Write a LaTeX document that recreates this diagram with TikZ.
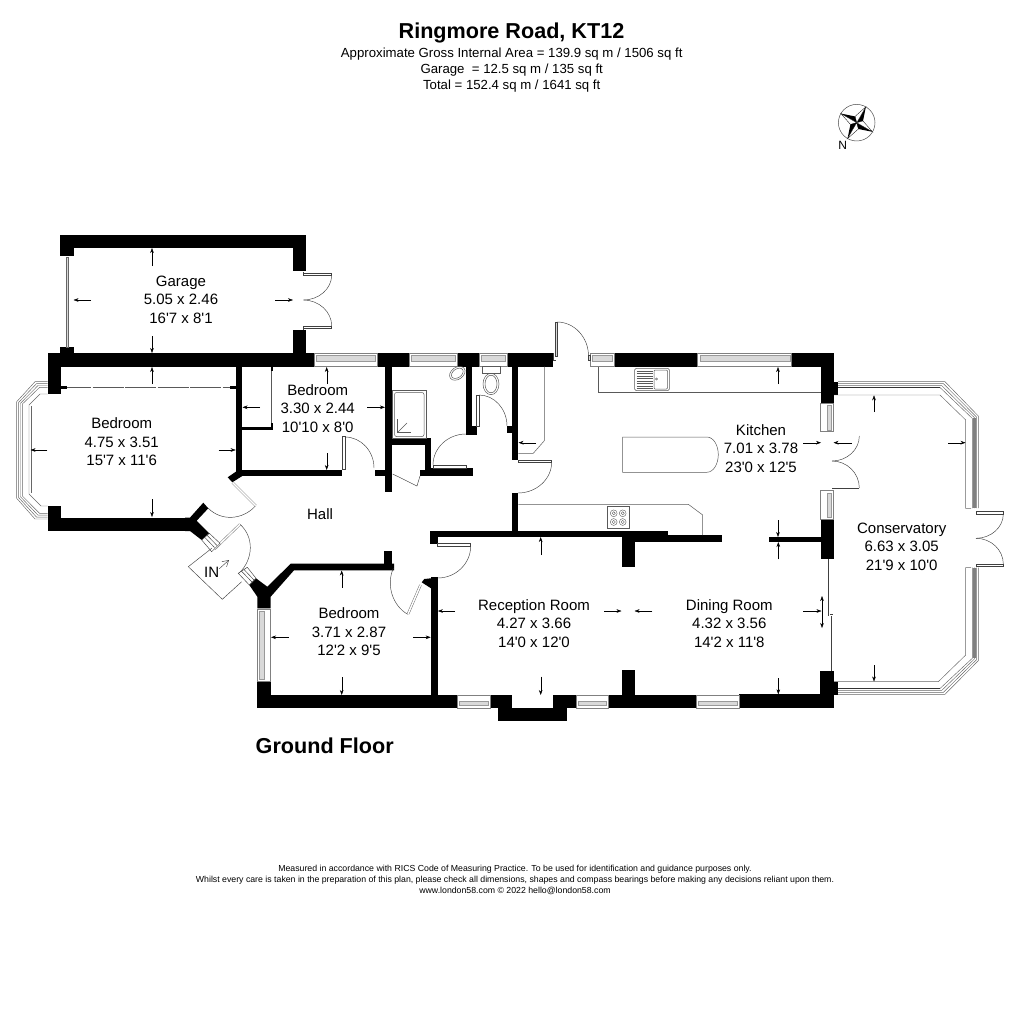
\documentclass[tikz,border=0pt]{standalone}
\usepackage{fontspec}
\usepackage{xcolor}
\usepackage{tikz}
\usetikzlibrary{calc}
\usetikzlibrary{arrows.meta}

\newfontfamily\planfont{Liberation Sans}

\newcommand{\doorarc}[3]{\path[draw, doorline] (#1) .. controls ($(#1)!.55!(#2)$) and ($(#3)!.55!(#2)$) .. (#3);}

\tikzset{
  wall/.style={fill=black},
  doorline/.style={draw=black!75, line width=.45pt},
  unitline/.style={draw=black!65, line width=.5pt},
  glassline/.style={draw=black!60, line width=.45pt, double=white, double distance=1.5pt},
  winframe/.style={draw=black!50, fill=white, line width=.45pt},
  wininner/.style={draw=black!40, fill=black!15, line width=.4pt},
  bayline/.style={draw=black!60, line width=.45pt},
  dimline/.style={draw=black, line width=.4pt, -{Stealth[length=5pt,width=3.6pt]}},
  roomlabel/.style={font=\planfont\fontsize{15}{18.6}\selectfont, align=center, inner sep=0pt},
  headline/.style={font=\planfont\bfseries\fontsize{21.6}{24}\selectfont, inner sep=0pt},
  arealabel/.style={font=\planfont\fontsize{13.2}{16.4}\selectfont, align=center, inner sep=0pt},
  smallprint/.style={font=\planfont\fontsize{8.75}{10.7}\selectfont, align=center, inner sep=0pt}
}

\begin{document}
\begin{tikzpicture}[x=1pt, y=-1pt]

\useasboundingbox (0,0) rectangle (1024,1024);

\node[headline] (title) at (511.5,32.5) {Ringmore Road, KT12};
\node[arealabel] (areas) at (511.7,70) {Approximate Gross Internal Area = 139.9 sq m / 1506 sq ft\\Garage \ = 12.5 sq m / 135 sq ft\\Total = 152.4 sq m / 1641 sq ft};

\foreach \xa/\ya/\xb/\yb in {
  60/234.5/306/248, 60/234.5/74/256, 293/234.5/306/271, 293/330/306/353, 60/347/74/353,
  47.5/353/314/366.7, 47.5/353/60.7/394.3, 235.7/366/241.7/476, 241/427/273/430, 241/470/342/476,
  375/470/385/476, 385/366/391.7/492, 377/353.3/409/366.7, 457/353.3/479.3/366.7, 507/353.3/553/366.7,
  465.7/366/472.3/435, 465.7/426/476.7/435, 506.7/426/512/433, 511.7/366/518.3/460, 391/438.3/431/445,
  424.5/438.3/431/476, 420/470/431/476, 431/468/472.7/476, 511.7/492.7/518.3/531.7,
  614/353.3/697.7/366.7, 791.7/353.3/834/366.7, 820.7/353.3/834/402.7, 834/381.7/838/395,
  820.7/519/834/559.3, 769/537.3/821/542, 430.3/530.7/667.7/536.7, 430.3/530.7/437.7/544.3,
  621.5/530.7/635/566.7, 621.5/535/721.7/541.7, 621.5/670/635/695, 384.3/551/391.7/565,
  430.7/577.3/437.7/695, 257.3/695/456.7/708.3, 257.3/681/270.7/708.3, 490/695/512.3/708.3,
  553.3/695/576/708.3, 498.3/707.7/567.3/721, 608.3/695/696/708.3, 739.3/694.3/834/708.3,
  820/670.7/834/708.3, 834/681.7/838.3/695, 47.7/506/60.7/531, 47.7/518/190/531
}
  \path[wall] (\xa,\ya) rectangle (\xb,\yb);

\path[wall] (227.7,477.3) -- (232.3,482.3) -- (242.3,476) -- (238.3,470) -- cycle;
\path[wall] (203.3,502.7) -- (208.3,508.3) -- (196.7,520.7) -- (209.3,533.3) -- (201.7,540) -- (190,531) -- (185,531) -- (185,517.6) -- (190,517.6) -- cycle;
\path[wall] (249.3,585) -- (257.3,596.7) -- (257.3,608.3) -- (270.7,608.3) -- (270.7,596.7) -- (294,570.3) -- (394,570.3) -- (394,563.7) -- (290.7,563.7) -- (267.3,586.7) -- (256,578.3) -- cycle;
\path[wall] (421.7,582.3) -- (424.3,579) -- (431,578.3) -- (431,588.3) -- cycle;

\foreach \xa/\xb in {314/377, 409/457, 479.3/507, 590/614, 697.7/791.7}{
  \path[winframe] (\xa,353.3) rectangle (\xb,366.7);
  \path[wininner] (\xa+2,355) rectangle (\xb-2,360.7);
}
\foreach \xa/\xb in {457/490, 576/608.3, 696/739.3}{
  \path[winframe] (\xa,695) rectangle (\xb,708.3);
  \path[wininner] (\xa+2,701.5) rectangle (\xb-2,705.5);
}
\foreach \ya/\yb in {403/431.7, 490.7/519}{
  \path[winframe] (820.7,\ya) rectangle (833,\yb);
  \path[wininner] (827.3,\ya+2) rectangle (831,\yb-2);
}
\path[winframe] (257.3,609) rectangle (270.7,681);
\path[wininner] (259.3,611) rectangle (264.5,679);

\path[draw, bayline, fill=black!15] (66,257) rectangle (68.3,347);

\foreach \d in {0,1.9,3.8,5.7}{
  \path[draw, bayline] (47.7,381.7+\d) -- (35+.8*\d,381.7+\d) -- (16.7+\d,401.7+.4*\d) -- (16.7+\d,498.3-.4*\d) -- (35+.8*\d,519-\d) -- (47.7,519-\d);
}
\path[draw, bayline] (47.7,394) -- (40,394) -- (29,405) -- (29,494) -- (41,506) -- (47.7,506);
\path[draw, bayline] (31,406) -- (31,493);

\path[draw, unitline, dash pattern=on 31pt off 1.5pt] (60,387.7) -- (236,387.7);
\path[wall] (60,386.4) rectangle (66.5,388.6);
\path[wall] (230,386.4) rectangle (236,388.6);
\path[draw, unitline] (271.3,368) -- (271.3,427);
\path[wall] (271,366) rectangle (273,371);
\path[wall] (271,423) rectangle (273,430);

\foreach \d in {0,2,4,6}{
  \path[draw, bayline] (838,381.7+\d) -- (945-.8*\d,381.7+\d) -- (978.3-\d,416+.4*\d) -- (978.3-\d,508);
  \path[draw, bayline] (838,694.3-\d) -- (945-.8*\d,694.3-\d) -- (978.3-\d,660.7-.4*\d) -- (978.3-\d,567.7);
}
\path[draw, black!80, line width=.8pt] (838,387.7) -- (940,387.7);
\path[draw, black!80, line width=.8pt] (838,688.3) -- (940,688.3);
\path[wall, fill=black!50] (972.5,418) rectangle (975.5,508);
\path[wall, fill=black!50] (972.5,567.7) rectangle (975.5,658);
\path[draw, bayline] (834,395) -- (940,395) -- (965.7,420) -- (965.7,508.3) -- (971,508.3);
\path[draw, bayline] (834,681.7) -- (938.3,681.7) -- (965.7,655) -- (965.7,567.7) -- (971,567.7);

\path[draw, glassline] (832,435) -- (859.3,435);
\path[draw, doorline] (832,488.5) -- (859.3,488.5);
\path[draw, doorline] (976,511.7) rectangle (1003.3,514);
\path[draw, doorline] (976,564) rectangle (1003.3,566);
\path[draw, doorline] (303.5,271.5) -- (303.5,275) -- (331.7,275) -- (331.7,273.3) -- (303.5,273.3);
\path[draw, doorline] (303.5,330) -- (303.5,326) -- (331.7,326) -- (331.7,328) -- (303.5,328);
\doorarc{331.7,275}{331.7,300}{303.3,300}
\doorarc{331.7,326}{331.7,300}{303.3,300}
\doorarc{859.3,436}{859.3,461}{832,461}
\doorarc{859.3,488}{859.3,461}{832,461}
\doorarc{1003.3,514}{1003.3,538.3}{976,538.3}
\doorarc{1003.3,564}{1003.3,538.3}{976,538.3}
\doorarc{345,437}{374,437}{374,468}
\doorarc{479,395}{507,395}{507,426}
\doorarc{433,465}{433,434}{466,434}
\doorarc{551.7,462}{551.7,493}{518,493}
\doorarc{557,322}{588.5,322}{588.5,356}
\doorarc{470.7,546}{470.7,578}{437.7,578}
\doorarc{240,524.3}{265.7,547.3}{239,573.3}
\doorarc{255.7,505.7}{232,532}{208.3,508.3}
\doorarc{407.7,614.3}{380,598.6}{393.3,568.3}

\path[draw, doorline, fill=white] (342,436.7) rectangle (345,469.5);
\path[draw, doorline, fill=white] (476.7,395) rectangle (479,426);
\path[draw, doorline, fill=white] (433,465) rectangle (466,468);
\path[draw, doorline, fill=white] (518.3,460) rectangle (551.7,462.3);
\path[draw, doorline, fill=black!15] (555,322.3) rectangle (557.7,356.7);
\path[draw, doorline] (553,353.3) -- (553,360) -- (556,360);
\path[draw, doorline, fill=black!15] (588,355) rectangle (590,360);
\path[draw, doorline, fill=white] (437.7,543.3) rectangle (470.7,546);
\path[draw, doorline] (392.7,474) -- (417,486) -- (420,476);
\path[draw, glassline] (232.5,482.5) -- (255.7,505.7);
\path[draw, glassline] (214.5,549) -- (240,524.3);
\path[draw, glassline] (420.5,585) -- (408,614);

\path[draw, doorline, fill=white] (201.7,540) -- (209.3,533.3) -- (220,543.3) -- (211.7,551.7) -- cycle;
\path[draw, doorline] (204.7,537.3) -- (214.5,547.5);
\path[draw, doorline] (207,535.2) -- (217,545.5);
\path[draw, doorline, fill=white] (238.3,573.3) -- (247.3,567.3) -- (256,578.3) -- (249.3,585) -- cycle;
\path[draw, doorline] (241.5,571.2) -- (251.8,581.8);
\path[draw, doorline] (244,569.5) -- (254,580);

\path[draw, doorline] (211.7,548.3) -- (188.3,566.7) -- (222.3,599.3) -- (241.7,581.7);
\node[roomlabel] (inlabel) at (211.7,572.3) {IN};
\path[draw, doorline, -{Straight Barb[length=6pt,width=7pt]}] (219.3,568.7) -- (229,560);

\path[draw, unitline] (544.3,366.7) -- (544.3,440.7) -- (533.3,453.3) -- (518.3,453.3);
\path[draw, unitline] (598,366.7) -- (598,392.3) -- (820.7,392.3);
\path[draw, unitline] (518.3,504.3) -- (688.3,504.3) -- (702.7,515) -- (702.7,535);

\path[draw, unitline, rounded corners=1.5pt] (634.7,368.3) rectangle (669.3,390.7);
\path[draw, unitline, rounded corners=1pt] (654,370) rectangle (667.5,389);
\foreach \y in {371,373.5,...,389}
  \path[draw, unitline, line width=.35pt] (636.5,\y) -- (653,\y);
\node[draw, circle, unitline, inner sep=0pt, minimum size=2.2pt] (tap) at (656.5,379) {};

\path[draw, unitline] (622.7,437) -- (706.7,437) .. controls (714,437) and (718.3,446) .. (718.3,454.7) .. controls (718.3,463) and (714,472.3) .. (706.7,472.3) -- (622.7,472.3) -- cycle;

\path[draw, unitline] (607.3,506.7) rectangle (629.3,528.3);
\foreach \x/\y in {613.7/513.3, 622.7/513.3, 613.7/522, 622.7/522}{
  \path[draw, unitline, line width=.4pt] (\x,\y) circle (3.4pt);
  \path[draw, unitline, line width=.4pt] (\x,\y) circle (1.6pt);
}

\path[draw, unitline] (392.7,390.7) rectangle (426,438.3);
\path[draw, unitline, rounded corners=2pt] (394.5,392.5) rectangle (424,436.5);
\path[draw, unitline] (397.3,419.3) -- (397.3,432.7) -- (411,432.7);
\path[draw, unitline] (397.3,432.7) -- (407,423);

\path[draw, unitline, rotate around={35:(457.3,373.3)}] (457.3,373.3) ellipse (8.5pt and 6pt);
\path[draw, unitline, rotate around={35:(457.3,373.3)}] (457.3,373.3) ellipse (6.5pt and 4.3pt);
\path[draw, unitline] (482.3,366.7) rectangle (500,373.3);
\path[draw, unitline] (491,384) ellipse (8pt and 10.7pt);
\path[draw, unitline] (491,384) ellipse (6pt and 8.8pt);

\path[draw, doorline, double=white, double distance=1pt] (829,559.3) -- (829,615) -- (832,615) -- (832,670.7);

\foreach \xa/\ya/\xb/\yb in {
  152/266/152/248, 152/336/152/353, 91/300/73.5/300, 275/300/293/300,
  152/384/152/367, 152/499/152/517, 47.3/450/30.5/450, 218.7/450/235.7/450,
  326.7/384/326.7/367, 326.7/453/326.7/470, 260/407.3/242.5/407.3, 367/407.3/385/407.3,
  778/384/778/367, 778/520/778/537, 536/442.7/518.5/442.7, 803.3/442.7/821/442.7,
  851.7/442.7/833.5/442.7, 948/442.7/965.5/442.7, 874/412/874/395.3, 874/665/874/681.5,
  778.3/559.3/778.3/542, 778.3/678/778.3/694.3, 652.3/611/634.5/611, 803.3/611/821.5/611,
  822/612.7/822/596, 822/611/822/628,
  540.7/555/540.7/537, 540.7/676.7/540.7/695, 455/611/437.9/611, 604/611/621.5/611,
  341.7/587.7/341.7/570.5, 341.7/677/341.7/695, 288.7/637.3/271/637.3, 413.3/637.3/430.7/637.3
}
  \path[dimline] (\xa,\ya) -- (\xb,\yb);

\node[roomlabel] (garage) at (181,299.7) {Garage\\5.05 x 2.46\\16'7 x 8'1};
\node[roomlabel] (bedroomwest) at (121.7,442) {Bedroom\\4.75 x 3.51\\15'7 x 11'6};
\node[roomlabel] (bedroomnorth) at (317.7,408.5) {Bedroom\\3.30 x 2.44\\10'10 x 8'0};
\node[roomlabel] (kitchen) at (761,448.5) {Kitchen\\7.01 x 3.78\\23'0 x 12'5};
\node[roomlabel] (conservatory) at (901.7,546.7) {Conservatory\\6.63 x 3.05\\21'9 x 10'0};
\node[roomlabel] (dining) at (729.3,623.5) {Dining Room\\4.32 x 3.56\\14'2 x 11'8};
\node[roomlabel] (reception) at (534,623.5) {Reception Room\\4.27 x 3.66\\14'0 x 12'0};
\node[roomlabel] (bedroomsouth) at (349,631.7) {Bedroom\\3.71 x 2.87\\12'2 x 9'5};
\node[roomlabel] (hall) at (320,514.3) {Hall};
\node[headline] (floorname) at (324.7,745.5) {Ground Floor};

\path[draw, black!70, line width=.5pt] (856.7,122.7) circle (18.3pt);
\foreach \a in {60,150,240,330}{
  \path[fill=black] (856.7,122.7) -- ({856.7+18.3*cos(\a)},{122.7-18.3*sin(\a)}) -- ({856.7+6.5*cos(\a-45)},{122.7-6.5*sin(\a-45)}) -- cycle;
  \path[draw=black, fill=white, line width=.3pt] (856.7,122.7) -- ({856.7+18.3*cos(\a)},{122.7-18.3*sin(\a)}) -- ({856.7+6.5*cos(\a+45)},{122.7-6.5*sin(\a+45)}) -- cycle;
}
\node[font=\planfont\fontsize{12}{13}\selectfont, inner sep=0pt] (north) at (842.7,145) {N};

\node[smallprint] (notes) at (515,880) {Measured in accordance with RICS Code of Measuring Practice. To be used for identification and guidance purposes only.\\Whilst every care is taken in the preparation of this plan, please check all dimensions, shapes and compass bearings before making any decisions reliant upon them.\\www.london58.com © 2022 hello@london58.com};

\end{tikzpicture}
\end{document}
